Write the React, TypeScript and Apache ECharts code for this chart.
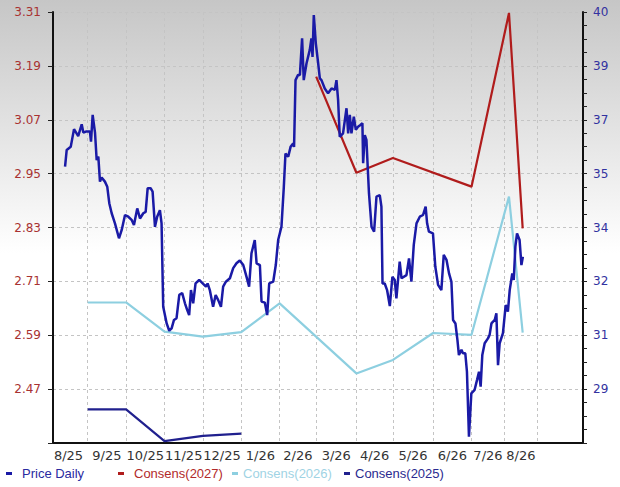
import React, { useEffect, useRef } from 'react';
import * as echarts from 'echarts';

// Month tick labels and trading-day index where each month begins
const monthLabels = ['8/25', '9/25', '10/25', '11/25', '12/25', '1/26', '2/26', '3/26', '4/26', '5/26', '6/26', '7/26', '8/26'];
const monthStarts = [-2, 19, 40, 61, 82, 103, 124, 144, 166, 186, 208, 229, 247, 265];

// Left axis (EPS consensus) ticks
const epsMin = 2.35;
const epsMax = 3.31;
const epsStep = 0.12;
// Right axis (price) ticks
const priceMin = 27.7;
const priceMax = 40.1;
const priceStep = 1.55;

// Price Daily (trading-day index, price)
const priceDays = [
  6.6, 7.5, 9.7, 11.5, 13.8, 15.7, 16.6, 18.0, 20.2, 20.8, 21.7, 23.0, 23.9, 24.8, 25.7, 26.6, 28.4, 29.7, 30.8, 32.1,
  33.9, 36.1, 37.6, 39.4, 41.2, 43.0, 44.3, 46.1, 47.6, 49.4, 50.7, 51.8, 53.4, 54.5, 55.8, 57.0, 58.5, 59.4, 60.3, 62.2,
  63.6, 64.9, 66.2, 67.6, 69.1, 70.7, 72.2, 73.4, 74.5, 75.5, 76.7, 78.0, 80.0, 81.9, 83.7, 84.6, 85.8, 87.6, 89.0, 90.4,
  91.9, 93.1, 94.6, 96.8, 98.6, 100.4, 102.2, 104.1, 105.9, 107.3, 108.6, 110.4, 111.4, 113.2, 114.1, 115.9, 117.2, 118.3, 120.5, 121.9,
  123.2, 125.0, 126.3, 127.2, 128.7, 130.0, 131.4, 131.9, 132.7, 134.1, 135.1, 136.3, 137.2, 138.7, 140.5, 141.4, 142.0, 142.7, 143.8, 145.1,
  146.0, 146.9, 148.7, 150.5, 152.4, 154.2, 155.1, 156.0, 156.9, 158.7, 160.6, 161.5, 162.4, 163.3, 164.6, 165.7, 166.9, 168.2, 169.3, 169.7,
  170.6, 171.5, 172.9, 174.3, 175.7, 177.0, 178.8, 179.7, 180.3, 181.5, 182.8, 184.3, 185.7, 187.0, 187.9, 189.7, 190.7, 193.4, 194.8, 196.1,
  197.4, 198.9, 200.7, 202.5, 203.9, 204.7, 205.7, 207.9, 209.2, 210.7, 212.5, 213.8, 215.3, 216.7, 218.0, 218.9, 220.2, 221.3, 222.1, 223.5,
  224.3, 225.6, 226.5, 227.6, 228.9, 230.7, 232.0, 233.1, 234.0, 234.9, 236.2, 238.0, 238.9, 239.9, 241.7, 242.6, 243.5, 244.4, 246.2, 247.7,
  248.9, 249.9, 251.3, 252.1, 253.0, 253.9, 255.3, 256.3, 257.1,
];
const priceValues = [
  35.65, 36.13, 36.22, 36.73, 36.53, 36.87, 36.63, 36.66, 36.66, 36.37, 37.14, 36.62, 35.84, 35.94, 35.22, 35.34, 35.22, 35.07, 34.6, 34.31,
  34.02, 33.59, 33.83, 34.26, 34.21, 34.12, 33.97, 34.45, 34.16, 34.31, 34.35, 35.03, 35.03, 34.93, 33.92, 34.21, 34.4, 34.02, 31.62, 31.14,
  30.93, 31.0, 31.24, 31.29, 31.96, 32.01, 31.72, 31.53, 31.38, 32.1, 31.72, 32.29, 32.39, 32.29, 32.2, 32.29, 32.1, 31.62, 31.96, 31.81,
  31.62, 32.2, 32.34, 32.44, 32.73, 32.87, 32.95, 32.82, 32.48, 32.2, 33.16, 33.54, 32.87, 32.82, 31.77, 31.74, 31.38, 32.29, 32.34, 32.82,
  33.54, 33.92, 35.07, 36.03, 35.94, 36.22, 36.32, 36.22, 38.14, 38.29, 38.29, 39.34, 38.14, 38.62, 39.01, 39.34, 38.81, 40.01, 39.2, 38.62,
  38.19, 38.14, 37.9, 37.76, 37.9, 37.86, 38.14, 37.57, 36.51, 36.61, 37.33, 36.61, 37.14, 36.61, 37.09, 36.71, 36.8, 36.85, 36.9, 35.75,
  36.56, 36.42, 34.88, 33.92, 33.78, 34.79, 34.83, 34.5, 32.29, 32.29, 32.1, 31.64, 32.48, 32.39, 31.86, 32.92, 32.44, 32.53, 33.01, 32.34,
  33.4, 34.02, 34.21, 34.26, 34.5, 34.02, 33.78, 33.73, 32.77, 32.25, 32.1, 33.11, 32.97, 32.58, 32.34, 31.24, 31.14, 30.66, 30.23, 30.38,
  30.28, 30.28, 29.75, 27.88, 29.13, 29.23, 29.51, 29.75, 29.32, 30.23, 30.57, 30.71, 30.81, 31.14, 31.24, 31.43, 29.94, 30.57, 30.86, 31.67,
  31.48, 32.1, 32.58, 32.39, 33.35, 33.73, 33.54, 32.82, 33.06,
];

// Consensus estimates (trading-day index, EPS)
const cons2027Days = [144, 166, 186, 229, 249.5, 257];
const cons2027Values = [3.166, 2.952, 2.985, 2.921, 3.308, 2.828];
const cons2026Days = [19, 40, 61, 82, 103, 124, 166, 186, 208, 229, 249.5, 257];
const cons2026Values = [2.663, 2.663, 2.598, 2.587, 2.597, 2.661, 2.505, 2.535, 2.595, 2.591, 2.899, 2.596];
const cons2025Days = [19, 40, 61, 82, 103];
const cons2025Values = [2.425, 2.425, 2.354, 2.366, 2.371];

const colPrice = '#1a1aa6';
const col2027 = '#b01c1c';
const col2026 = '#8dcfe0';
const col2025 = '#20208e';

const pair = (xs: number[], ys: number[]) => xs.map((x, i) => [x, ys[i]]);

export default function App() {
  const ref = useRef<HTMLDivElement>(null);
  useEffect(() => {
    if (!ref.current) return;
    const chart = echarts.init(ref.current, null, { renderer: 'svg' });
    const labelPos = monthLabels.map((_, i) => (monthStarts[i] + monthStarts[i + 1]) / 2);
    const gridDays = monthStarts.slice(1);
    const axisLineStyle = { color: '#111', width: 2 };
    const legendBase = {
      top: 467,
      icon: 'rect',
      itemWidth: 6,
      itemHeight: 3,
      selectedMode: false,
      padding: 0,
    };
    const legendText = (color: string, pad: number) => ({
      color,
      fontFamily: 'Liberation Sans',
      fontSize: 13,
      padding: [0, 0, 0, pad],
    });
    chart.setOption({
      animation: false,
      backgroundColor: 'transparent',
      grid: { left: 53, right: 37, top: 12, bottom: 44, containLabel: false },
      xAxis: {
        type: 'value',
        min: 0,
        max: 290,
        axisLine: { show: true, onZero: false, lineStyle: axisLineStyle },
        axisTick: { show: false, customValues: gridDays },
        splitLine: { show: true, lineStyle: { color: '#c4c4c4', type: [3, 3], width: 1 } },
        axisLabel: {
          customValues: labelPos,
          color: '#333',
          fontFamily: 'DejaVu Sans',
          fontSize: 13,
          margin: 6,
          formatter: (v: number) => {
            const i = labelPos.findIndex((p) => Math.abs(p - v) < 0.01);
            return i >= 0 ? monthLabels[i] : '';
          },
        },
      },
      yAxis: [
        {
          type: 'value',
          position: 'left',
          min: epsMin,
          max: epsMax,
          interval: epsStep,
          axisLine: { show: true, lineStyle: axisLineStyle },
          axisTick: { show: true, length: 5, lineStyle: { color: '#222' } },
          splitLine: { show: true, lineStyle: { color: '#c4c4c4', type: [3, 3], width: 1 } },
          axisLabel: {
            color: '#a83232',
            fontFamily: 'DejaVu Sans',
            fontSize: 12,
            margin: 12,
            formatter: (v: number) => (Math.abs(v - epsMin) < 1e-6 ? '' : v.toFixed(2)),
          },
        },
        {
          type: 'value',
          position: 'right',
          min: priceMin,
          max: priceMax,
          interval: priceStep,
          axisLine: { show: true, lineStyle: axisLineStyle },
          axisTick: { show: true, length: 4, lineStyle: { color: '#222' } },
          minorTick: { show: true, splitNumber: 4, length: 4, lineStyle: { color: '#222', width: 1 } },
          splitLine: { show: false },
          axisLabel: {
            color: '#3232a0',
            fontFamily: 'DejaVu Sans',
            fontSize: 12,
            margin: 10,
            formatter: (v: number) => (Math.abs(v - priceMin) < 1e-6 ? '' : String(Math.round(v))),
          },
        },
      ],
      legend: [
        { ...legendBase, left: 6, data: ['Price Daily'], textStyle: legendText('#2a2aa0', 5) },
        { ...legendBase, left: 118, data: ['Consens(2027)'], textStyle: legendText('#b22a2a', 5) },
        { ...legendBase, left: 232, data: ['Consens(2026)'], textStyle: legendText('#9fd3e4', 0) },
        { ...legendBase, left: 344, data: ['Consens(2025)'], textStyle: legendText('#2a2a90', 0) },
      ],
      series: [
        {
          name: 'Consens(2025)',
          type: 'line',
          yAxisIndex: 0,
          data: pair(cons2025Days, cons2025Values),
          symbol: 'none',
          lineStyle: { color: col2025, width: 2.2 },
          itemStyle: { color: col2025 },
        },
        {
          name: 'Consens(2026)',
          type: 'line',
          yAxisIndex: 0,
          data: pair(cons2026Days, cons2026Values),
          symbol: 'none',
          lineStyle: { color: col2026, width: 2.2 },
          itemStyle: { color: col2026 },
        },
        {
          name: 'Consens(2027)',
          type: 'line',
          yAxisIndex: 0,
          data: pair(cons2027Days, cons2027Values),
          symbol: 'none',
          lineStyle: { color: col2027, width: 2.2 },
          itemStyle: { color: col2027 },
        },
        {
          name: 'Price Daily',
          type: 'line',
          yAxisIndex: 1,
          data: pair(priceDays, priceValues),
          symbol: 'none',
          lineStyle: { color: colPrice, width: 2.5 },
          itemStyle: { color: colPrice },
        },
      ],
    });
    return () => chart.dispose();
  }, []);
  return (
    <div
      ref={ref}
      style={{
        position: 'absolute',
        left: 0,
        top: 0,
        width: 620,
        height: 487,
        background: 'linear-gradient(to bottom, #c6c6c6 0%, #ffffff 52%, #ffffff 100%)',
      }}
    />
  );
}
